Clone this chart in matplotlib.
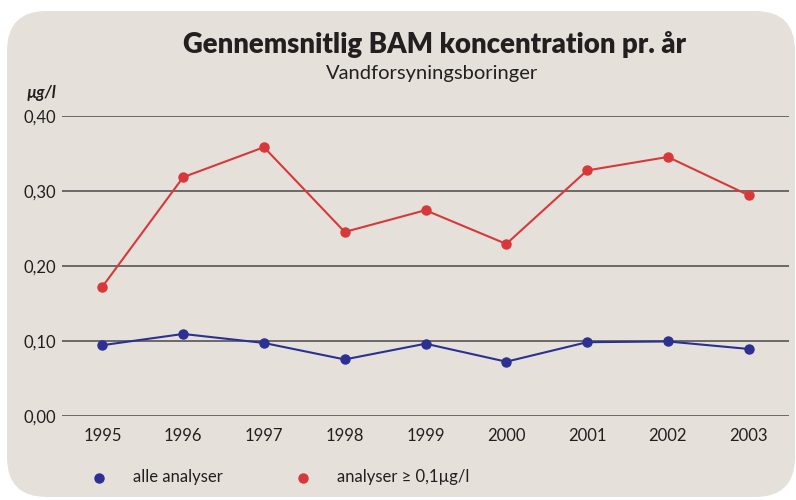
import matplotlib
matplotlib.use("Agg")
import matplotlib.pyplot as plt
from matplotlib.patches import FancyBboxPatch

years = [1995, 1996, 1997, 1998, 1999, 2000, 2001, 2002, 2003]
alle = [0.094, 0.109, 0.097, 0.075, 0.096, 0.072, 0.098, 0.099, 0.089]
over01 = [0.172, 0.318, 0.358, 0.245, 0.274, 0.229, 0.327, 0.345, 0.294]
yticks = [0.0, 0.1, 0.2, 0.3, 0.4]
ytick_labels = ["0,00", "0,10", "0,20", "0,30", "0,40"]
legend_labels = ["alle analyser", "analyser \u2265 0,1\u00b5g/l"]

BG = "#e5e1da"
RED = "#d8383a"
BLUE = "#2c3093"
TXT = "#231f20"
plt.rcParams["font.family"] = ["Lato", "DejaVu Sans"]

W, H = 796, 500
fig = plt.figure(figsize=(W / 100, H / 100), dpi=100)
fig.patch.set_facecolor("white")

panel = FancyBboxPatch((7 / W, 3 / H), (795 - 7) / W, (489 - 3) / H,
                       boxstyle="round,pad=0,rounding_size=0.05",
                       transform=fig.transFigure, facecolor=BG, edgecolor="none",
                       mutation_aspect=W / H, zorder=-5)
fig.patches.append(panel)

ax = fig.add_axes([62 / W, (H - 415.7) / H, (789 - 62) / W, (415.7 - 115.7) / H])
ax.set_zorder(2)
ax.set_facecolor("none")
ax.patch.set_alpha(0)
ax.set_xlim(1994.5, 2003.5)
ax.set_ylim(0, 0.4)
for s in ax.spines.values():
    s.set_visible(False)
for y in yticks:
    ax.axhline(y, color="#575555", lw=1.2, zorder=1)
ax.set_yticks(yticks)
ax.set_yticklabels(ytick_labels, fontsize=12, color=TXT)
ax.set_xticks(years)
ax.set_xticklabels([str(y) for y in years], fontsize=12, color=TXT)
ax.tick_params(axis="both", length=0, pad=4)
ax.tick_params(axis="x", pad=9)

ax.plot(years, over01, color=RED, lw=1.5, marker="o", ms=6.5, zorder=3)
ax.plot(years, alle, color=BLUE, lw=1.5, marker="o", ms=6.5, zorder=3)

fig.text(435 / W, 1 - 44 / H, "Gennemsnitlig BAM koncentration pr. \u00e5r",
         ha="center", va="center", fontsize=19.8, fontweight="heavy", color=TXT)
fig.text(432 / W, 1 - 73 / H, "Vandforsyningsboringer",
         ha="center", va="center", fontsize=14.5, color=TXT)
fig.text(27 / W, 1 - 93 / H, "\u00b5g/l", ha="left", va="center",
         fontsize=12, fontweight="bold", fontstyle="italic", color=TXT)

# legend
fig.lines.append(plt.Line2D([99 / W], [1 - 478 / H], transform=fig.transFigure,
                            marker="o", ms=6.5, color=BLUE, ls="none"))
fig.text(133 / W, 1 - 477 / H, legend_labels[0], ha="left", va="center",
         fontsize=12, color=TXT)
fig.lines.append(plt.Line2D([303 / W], [1 - 478 / H], transform=fig.transFigure,
                            marker="o", ms=6.5, color=RED, ls="none"))
fig.text(337 / W, 1 - 477 / H, legend_labels[1], ha="left", va="center",
         fontsize=12, color=TXT)

fig.savefig("out.png", dpi=100, facecolor="white")
